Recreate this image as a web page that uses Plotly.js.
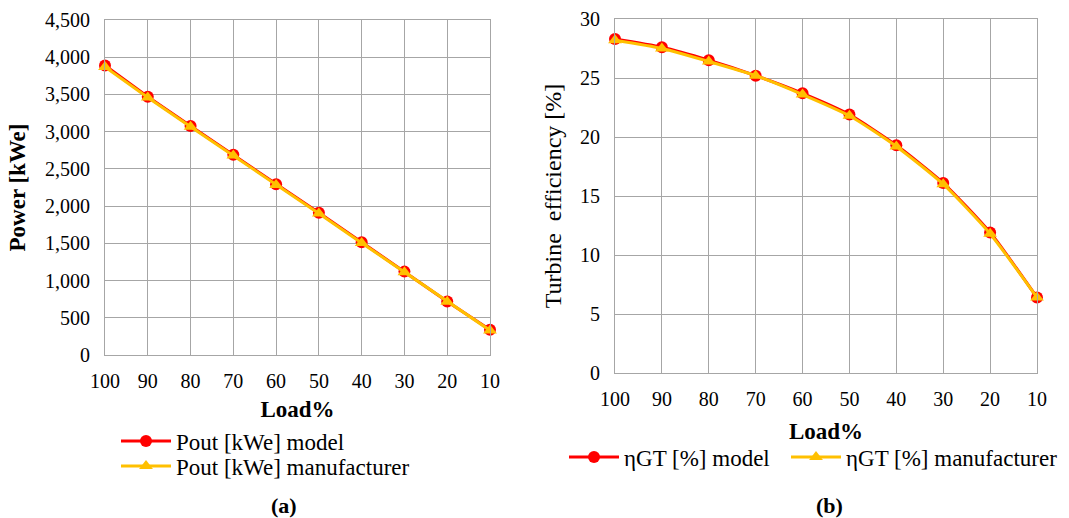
<!DOCTYPE html>
<html>
<head>
<meta charset="utf-8">
<script src="https://cdn.plot.ly/plotly-3.0.1.min.js"></script>
<style>html,body{margin:0;padding:0;background:#fff;}#chart{width:1069px;height:518px;}</style>
</head>
<body>
<div id="chart"></div>
<script>
const loads = [100, 90, 80, 70, 60, 50, 40, 30, 20, 10];
const powerModel = [3890, 3470, 3075, 2690, 2295, 1910, 1515, 1120, 720, 340];
const powerManufacturer = [3870, 3460, 3065, 2680, 2285, 1900, 1505, 1110, 715, 330];
const effModel = [28.3, 27.6, 26.5, 25.2, 23.7, 21.9, 19.3, 16.1, 11.9, 6.4];
const effManufacturer = [28.2, 27.5, 26.4, 25.2, 23.6, 21.8, 19.2, 16.0, 11.8, 6.4];

const RED = '#ff0000', GOLD = '#ffc000', GRID = '#a6a6a6';
const FONT = 'Liberation Serif';

const traces = [
  {x: loads, y: powerModel, xaxis: 'x', yaxis: 'y', name: 'Pout [kWe] model', mode: 'lines+markers',
   line: {color: RED, width: 3}, marker: {symbol: 'circle', size: 12, color: RED}, cliponaxis: false, legend: 'legend'},
  {x: loads, y: powerManufacturer, xaxis: 'x', yaxis: 'y', name: 'Pout [kWe] manufacturer', mode: 'lines+markers',
   line: {color: GOLD, width: 3}, marker: {symbol: 'triangle-up', size: 12, color: GOLD}, cliponaxis: false, legend: 'legend3'},
  {x: loads, y: effModel, xaxis: 'x2', yaxis: 'y2', name: '\u03b7GT [%] model', mode: 'lines+markers',
   line: {color: RED, width: 3, shape: 'spline', smoothing: 0.6}, marker: {symbol: 'circle', size: 12, color: RED}, cliponaxis: false, legend: 'legend2'},
  {x: loads, y: effManufacturer, xaxis: 'x2', yaxis: 'y2', name: '\u03b7GT [%] manufacturer', mode: 'lines+markers',
   line: {color: GOLD, width: 3, shape: 'spline', smoothing: 0.6}, marker: {symbol: 'triangle-up', size: 12, color: GOLD}, cliponaxis: false, legend: 'legend4'}
];

const W = 1069, H = 518;
function xaxisBase(d0, d1, anchor, standoff) {
  return {domain: [d0 / W, d1 / W], anchor: anchor, range: [100, 10], tickmode: 'array', tickvals: loads,
    showgrid: true, gridcolor: GRID, gridwidth: 1, showline: true, linecolor: GRID, linewidth: 1, mirror: true,
    zeroline: false, ticks: '', ticklabelstandoff: 8, tickfont: {family: FONT, size: 20, color: '#000'},
    automargin: false, fixedrange: true,
    title: {text: '<b>Load%</b>', font: {family: FONT, size: 23, color: '#000'}, standoff: standoff}};
}
function yaxisBase(t, b, anchor, range, dtick, fmt, title, bold, standoff) {
  return {domain: [1 - b / H, 1 - t / H], anchor: anchor, range: range, dtick: dtick, tickformat: fmt,
    showgrid: true, gridcolor: GRID, gridwidth: 1, showline: true, linecolor: GRID, linewidth: 1, mirror: true,
    zeroline: false, ticks: '', ticklabelstandoff: 10, tickfont: {family: FONT, size: 20, color: '#000'},
    automargin: false, fixedrange: true,
    title: {text: title, font: {family: FONT, size: bold ? 23 : 24, color: '#000'}, standoff: standoff}};
}
function leg(xpx, ypx) {
  return {x: xpx / W, y: 1 - ypx / H, xanchor: 'left', yanchor: 'middle', orientation: 'h', itemwidth: 50,
    font: {family: FONT, size: 23, color: '#000'}, bgcolor: 'rgba(0,0,0,0)', borderwidth: 0, itemclick: false};
}

const layout = {
  width: W, height: H, margin: {l: 0, r: 0, t: 0, b: 0},
  paper_bgcolor: '#fff', plot_bgcolor: '#fff',
  font: {family: FONT, color: '#000'},
  xaxis: xaxisBase(105, 490, 'y', 9),
  yaxis: yaxisBase(20, 355, 'x', [0, 4500], 500, ',', '<b>Power [kWe]</b>', true, 12),
  xaxis2: xaxisBase(615, 1037, 'y2', 13),
  yaxis2: yaxisBase(19, 373, 'x2', [0, 30], 5, '', 'Turbine\u00a0 efficiency [%]', false, 11),
  legend: leg(116, 441),
  legend3: leg(116, 466),
  legend2: leg(564, 457),
  legend4: leg(786, 457),
  annotations: [
    {text: '<b>(a)</b>', x: 284 / W, y: 1 - 505 / H, xref: 'paper', yref: 'paper', showarrow: false,
     font: {family: FONT, size: 22, color: '#000'}, xanchor: 'center', yanchor: 'middle'},
    {text: '<b>(b)</b>', x: 829 / W, y: 1 - 505 / H, xref: 'paper', yref: 'paper', showarrow: false,
     font: {family: FONT, size: 22, color: '#000'}, xanchor: 'center', yanchor: 'middle'}
  ],
  showlegend: true
};

Plotly.newPlot('chart', traces, layout, {displayModeBar: false, staticPlot: true});
</script>
</body>
</html>
